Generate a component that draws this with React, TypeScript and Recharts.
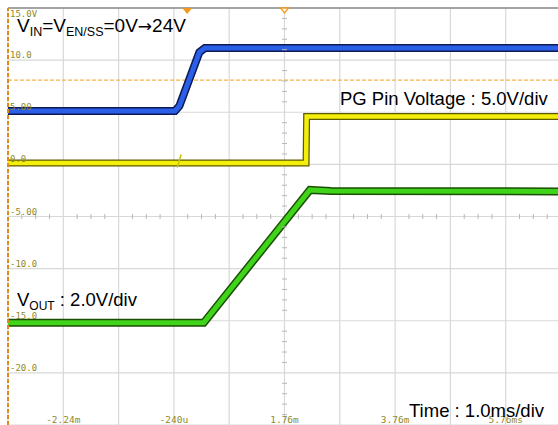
import React from 'react';
import {
  ComposedChart,
  Line,
  Scatter,
  XAxis,
  YAxis,
  CartesianGrid,
  ReferenceLine,
  ReferenceDot,
} from 'recharts';

// Time axis (ms): grid every 1.0 ms/div
const timeTicks = [-3.24, -2.24, -1.24, -0.24, 0.76, 1.76, 2.76, 3.76, 4.76, 5.76, 6.76];
const timeLabels: Record<string, string> = {
  '-2.24': '-2.24m',
  '-0.24': '-240u',
  '1.76': '1.76m',
  '3.76': '3.76m',
  '5.76': '5.76ms',
};

// Voltage axis (V): 5 V/div
const voltTicks = [15, 10, 5, 0, -5, -10, -15, -20, -25];
const voltLabels: Record<string, string> = {
  '15': '15.0V',
  '10': '10.0',
  '5': '5.00',
  '0': '0.0',
  '-5': '-5.00',
  '-10': '-10.0',
  '-15': '-15.0',
  '-20': '-20.0',
};

// VIN (blue)
const vinData = [
  { t: -3.24, v: 5.12 },
  { t: -0.22, v: 5.12 },
  { t: -0.14, v: 5.6 },
  { t: 0.22, v: 10.75 },
  { t: 0.32, v: 11.16 },
  { t: 6.76, v: 11.16 },
];

// PG pin voltage (yellow)
const pgData = [
  { t: -3.24, v: 0.12 },
  { t: 2.15, v: 0.12 },
  { t: 2.16, v: 4.59 },
  { t: 6.76, v: 4.59 },
];
// small switching glitch on PG
const pgGlitch = [
  { t: -0.18, v: -0.3 },
  { t: -0.11, v: 0.95 },
];

// VOUT (green)
const voutData = [
  { t: -3.24, v: -15.18 },
  { t: 0.3, v: -15.18 },
  { t: 2.22, v: -2.45 },
  { t: 2.6, v: -2.55 },
  { t: 6.76, v: -2.6 },
];

// Minor graticule ticks on the centre lines
const centerTime = 1.76;
const centerVolt = -5;
const minorVolts = [-24, -23, -22, -21, -19, -18, -17, -16, -14, -13, -12, -11, -9, -8, -7, -6, -4, -3, -2, -1, 1, 2, 3, 4, 6, 7, 8, 9, 11, 12, 13, 14];
const minorTimes = [-2.99, -2.74, -2.49, -1.99, -1.74, -1.49, -0.99, -0.74, -0.49, 0.01, 0.26, 0.51, 1.01, 1.26, 1.51, 2.01, 2.26, 2.51, 3.01, 3.26, 3.51, 4.01, 4.26, 4.51, 5.01, 5.26, 5.51, 6.01, 6.26, 6.51];
const vMinorData = minorVolts.map((v) => ({ t: centerTime, v }));
const hMinorData = minorTimes.map((t) => ({ t, v: centerVolt }));

// Markers
const triggerTime = 0.0;
const triggerLevel = 8.09;

const labelColor = '#8f8a2a';
const mono = '"DejaVu Sans Mono", monospace';
const sans = '"Liberation Sans", Arial, sans-serif';

const XTick = (props: any) => {
  const { x, payload } = props;
  const key = String(Number(Number(payload.value).toFixed(2)));
  const label = timeLabels[key];
  if (!label) return null;
  return (
    <text x={x} y={423} textAnchor="middle" fontSize={9.5} fontFamily={mono} fill={labelColor}>
      {label}
    </text>
  );
};

const YTick = (props: any) => {
  const { y, payload } = props;
  const label = voltLabels[String(payload.value)];
  if (!label) return null;
  const dy = payload.value === 15 ? 9 : -2;
  return (
    <text x={10} y={y + dy} textAnchor="start" fontSize={9} fontFamily={mono} fill={labelColor}>
      {label}
    </text>
  );
};

const hTickShape = (p: any) => (
  <line x1={p.cx - 2.5} x2={p.cx + 2.5} y1={p.cy} y2={p.cy} stroke="#b8b8b8" strokeWidth={1} />
);
const vTickShape = (p: any) => (
  <line x1={p.cx} x2={p.cx} y1={p.cy - 2.5} y2={p.cy + 2.5} stroke="#b8b8b8" strokeWidth={1} />
);

const filledTri = (p: any) => (
  <polygon points={`${p.cx - 5},${p.cy} ${p.cx + 5},${p.cy} ${p.cx},${p.cy + 6}`} fill="#f39a1e" />
);
const outlineTri = (p: any) => (
  <polygon
    points={`${p.cx - 4},${p.cy} ${p.cx + 4},${p.cy} ${p.cx},${p.cy + 5}`}
    fill="#fff"
    stroke="#f39a1e"
    strokeWidth={1.3}
  />
);

export default function App() {
  return (
    <div
      style={{
        position: 'fixed',
        left: 0,
        top: 0,
        width: 558,
        height: 425,
        overflow: 'hidden',
        background: '#ffffff',
      }}
    >
      <ComposedChart
        width={570}
        height={430}
        margin={{ top: 8, right: 9, left: 7, bottom: 4 }}
      >
        <CartesianGrid stroke="#d8d8d8" strokeWidth={1.2} />
        <XAxis
          dataKey="t"
          type="number"
          domain={[-3.24, 6.76]}
          ticks={timeTicks}
          interval={0}
          height={1}
          axisLine={false}
          tickLine={false}
          tickSize={0}
          tickMargin={0}
          tick={<XTick />}
          allowDataOverflow
        />
        <YAxis
          dataKey="v"
          type="number"
          domain={[-25, 15]}
          ticks={voltTicks}
          interval={0}
          width={1}
          axisLine={false}
          tickLine={false}
          tickSize={0}
          tickMargin={0}
          tick={<YTick />}
          allowDataOverflow
        />
        <ReferenceLine y={15} stroke="#8c8c8c" strokeWidth={1.5} />
        <ReferenceLine y={triggerLevel} stroke="#f7b24a" strokeWidth={1.3} strokeDasharray="4 2" />
        <Scatter data={vMinorData} dataKey="v" shape={hTickShape} isAnimationActive={false} />
        <Scatter data={hMinorData} dataKey="v" shape={vTickShape} isAnimationActive={false} />

        <Line data={vinData} dataKey="v" type="linear" stroke="#0c1a55" strokeWidth={8} dot={false} isAnimationActive={false} />
        <Line data={vinData} dataKey="v" type="linear" stroke="#2b5fe8" strokeWidth={5} dot={false} isAnimationActive={false} />

        <Line data={pgData} dataKey="v" type="linear" stroke="#5e5a00" strokeWidth={7} dot={false} isAnimationActive={false} />
        <Line data={pgData} dataKey="v" type="linear" stroke="#f4ee0c" strokeWidth={4.5} dot={false} isAnimationActive={false} />
        <Line data={pgGlitch} dataKey="v" type="linear" stroke="#c8c200" strokeWidth={1.5} dot={false} isAnimationActive={false} />

        <Line data={voutData} dataKey="v" type="linear" stroke="#1b4d05" strokeWidth={8} dot={false} isAnimationActive={false} />
        <Line data={voutData} dataKey="v" type="linear" stroke="#3fd41a" strokeWidth={5} dot={false} isAnimationActive={false} />

        <ReferenceLine x={-3.24} stroke="#e08a1c" strokeWidth={2} strokeDasharray="4 2" />
        <ReferenceDot x={triggerTime} y={15} r={5} shape={filledTri} ifOverflow="visible" />
        <ReferenceDot x={centerTime} y={15} r={5} shape={outlineTri} ifOverflow="visible" />
      </ComposedChart>

      <svg
        width={558}
        height={425}
        style={{ position: 'absolute', left: 0, top: 0, pointerEvents: 'none' }}
      >
        <text x={17} y={32} fontSize={19} fontFamily={sans} fill="#000">
          V
          <tspan fontSize={12.5} dy={4}>IN</tspan>
          <tspan dy={-4}>=V</tspan>
          <tspan fontSize={12.5} dy={4}>EN/SS</tspan>
          <tspan dy={-4}>=0V</tspan>
          <tspan fontFamily='"DejaVu Sans", sans-serif' fontSize={17}>→</tspan>
          <tspan>24V</tspan>
        </text>
        <text x={340} y={105} fontSize={18.5} fontFamily={sans} fill="#000">
          PG Pin Voltage : 5.0V/div
        </text>
        <text x={17} y={306} fontSize={18.5} fontFamily={sans} fill="#000">
          V
          <tspan fontSize={12} dy={4}>OUT</tspan>
          <tspan dy={-4}> : 2.0V/div</tspan>
        </text>
        <text x={409} y={417} fontSize={18.5} fontFamily={sans} fill="#000">
          Time : 1.0ms/div
        </text>
      </svg>
    </div>
  );
}
